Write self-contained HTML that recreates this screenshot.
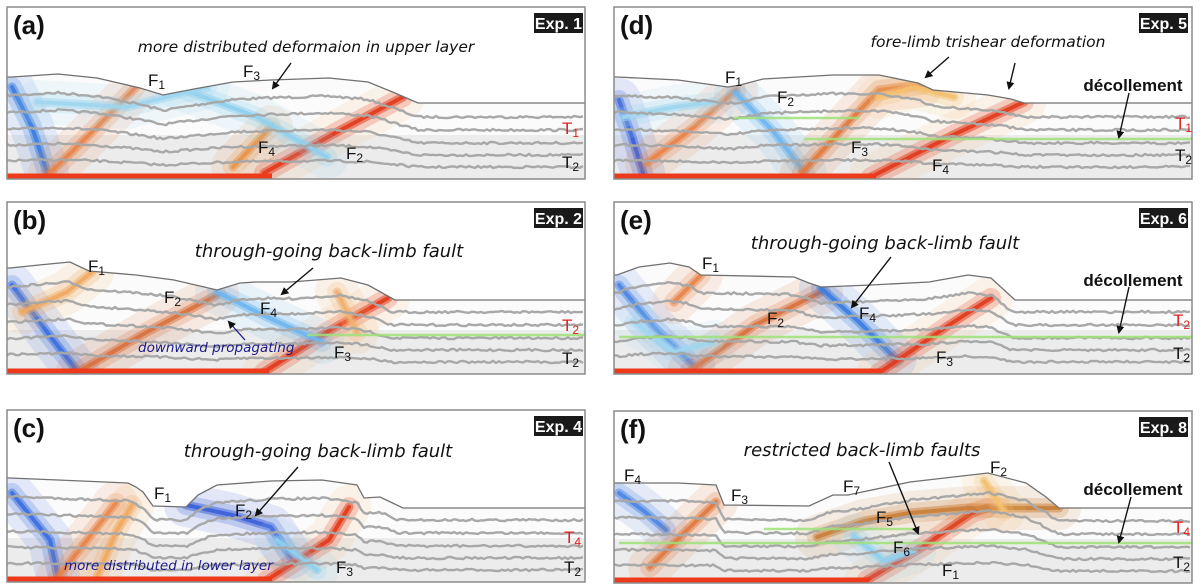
<!DOCTYPE html>
<html><head><meta charset="utf-8">
<style>
html,body{margin:0;padding:0;background:#fff;width:1200px;height:587px;overflow:hidden}
svg{display:block}
.lbl{font-family:"Liberation Sans",sans-serif;font-weight:bold;font-size:26px;fill:#111}
.exp{font-family:"Liberation Sans",sans-serif;font-weight:bold;font-size:16px;fill:#fff}
.ann{font-family:"DejaVu Sans",sans-serif;font-style:italic;font-size:15.5px;fill:#111}
.annb{font-family:"DejaVu Sans",sans-serif;font-style:italic;font-size:13.5px;fill:#1a1a8c}
.fl{font-family:"Liberation Sans Narrow","Liberation Sans",sans-serif;font-size:17px;fill:#111}
.dec{font-family:"Liberation Sans Narrow","Liberation Sans",sans-serif;font-weight:bold;font-size:17px;fill:#111}
</style></head>
<body>
<svg id="fig" width="1200" height="587" viewBox="0 0 1200 587" xmlns="http://www.w3.org/2000/svg"></svg>
<script>
const panelIds = ['a','b','c','d','e','f'];
const panelX = [7,7,7,614,614,614];
const panelY = [7,202,410,7,202,411];
const expNames = ['Exp. 1','Exp. 2','Exp. 4','Exp. 5','Exp. 6','Exp. 8'];
const topoA = [[0,70],[5,70],[51,67],[90,71],[133,81],[156,88],[187,82],[226,75],[264,73],[322,71],[361,75],[388,86],[411,96],[578,96]];
const topoB = [[0,66],[3,66],[32,63],[63,60],[82,69],[129,73],[167,78],[210,88],[233,81],[249,80],[284,80],[334,76],[361,83],[388,98],[578,98]];
const topoC = [[0,68],[3,68],[51,70],[121,73],[129,77],[136,82],[146,96],[179,97],[191,85],[210,75],[264,71],[315,70],[350,75],[357,88],[373,87],[396,98],[578,98]];
const topoD = [[0,70],[3,70],[64,73],[114,80],[126,78],[149,72],[219,68],[265,68],[304,76],[319,83],[374,88],[397,92],[410,96],[578,96]];
const topoE = [[0,73],[3,73],[25,65],[56,61],[75,65],[87,73],[180,75],[195,81],[207,85],[257,83],[315,80],[354,73],[377,76],[401,98],[578,98]];
const topoF = [[0,72],[3,72],[64,72],[102,74],[110,94],[195,95],[219,84],[234,84],[296,71],[374,62],[412,72],[432,86],[445,97],[578,97]];
const topos = [topoA,topoB,topoC,topoD,topoE,topoF];
const faultsA = [[[[5,80],[25,120],[40,165]],'#3b7de0'],[[[43,166],[90,120],[129,80]],'#e8844a'],[[[257,166],[330,125],[396,90]],'#e23a1c'],[[[226,160],[264,120]],'#e8944a'],[[[170,80],[250,110],[320,150]],'#8fd0ee'],[[[30,95],[120,100],[200,80]],'#9fd6ef']];
const faultsB = [[[[5,83],[40,130],[71,170]],'#3b6fe0'],[[[71,170],[140,130],[210,93]],'#d9713f'],[[[257,170],[320,130],[381,96]],'#e23a1c'],[[[210,90],[260,115],[315,140]],'#6fb6ee'],[[[15,110],[60,90],[85,70]],'#f0a860'],[[[330,90],[350,130]],'#f0b070']];
const faultsC = [[[[5,83],[43,130],[51,167]],'#3b6fe0'],[[[51,167],[80,130],[109,93]],'#e8844a'],[[[179,95],[225,105],[264,117],[284,147]],'#3b5fd8'],[[[260,170],[322,130],[342,97]],'#e23a1c'],[[[90,167],[110,120],[125,95]],'#f0a860'],[[[270,130],[310,160]],'#8fd0ee']];
const faultsD = [[[[5,93],[18,130],[29,166]],'#3b5fd8'],[[[33,156],[80,120],[122,83]],'#e8844a'],[[[122,86],[160,125],[191,166]],'#6fb6ee'],[[[188,166],[230,120],[265,83],[308,78]],'#e07a40'],[[[257,170],[339,128],[410,95]],'#e23a1c'],[[[10,110],[60,100],[100,95]],'#9fd6ef'],[[[265,90],[300,80],[340,90]],'#f4c070']];
const faultsE = [[[[5,83],[40,125],[79,163]],'#4d86e3'],[[[75,170],[141,123],[207,90]],'#d9713f'],[[[207,86],[245,120],[281,156]],'#3b7de0'],[[[265,171],[335,123],[377,96]],'#e23a1c'],[[[60,100],[87,73]],'#e8844a'],[[[20,120],[60,150],[100,140]],'#9fd6ef']];
const faultsF = [[[[5,82],[30,100],[52,119]],'#4d86e3'],[[[36,156],[70,122],[102,91]],'#e07a40'],[[[253,169],[310,135],[358,102],[374,97]],'#e23a1c'],[[[203,126],[250,110],[296,102],[354,97],[445,97]],'#c9803a'],[[[240,125],[270,150],[300,140]],'#8fd0ee'],[[[370,70],[390,100]],'#f4c070']];
const faultSets = [faultsA,faultsB,faultsC,faultsD,faultsE,faultsF];
const baseEnd = [265,262,265,262,268,255];
const greenLines = [null,[[300,578,133]],null,[[190,578,132],[120,245,111]],[[5,578,135]],[[5,578,132],[150,300,118]]];
const labelsA = [['more distributed deformaion in upper layer',299,45,'ann','middle']];
const labelsB = [['through-going back-limb fault',322,55,'ann2','middle'],['downward propagating',131,150,'annb','start']];
const labelsC = [['through-going back-limb fault',311,47,'ann2','middle'],['more distributed in lower layer',57,160,'annb','start']];
const labelsD = [['fore-limb trishear deformation',374,40,'ann','middle']];
const labelsE = [['through-going back-limb fault',271,47,'ann2','middle']];
const labelsF = [['restricted back-limb faults',248,45,'ann2','middle']];
const labelSets = [labelsA,labelsB,labelsC,labelsD,labelsE,labelsF];
const fA = [['1',141,79],['3',236,70],['4',251,146],['2',339,152]];
const fB = [['1',81,70],['2',157,101],['4',253,112],['3',327,156]];
const fC = [['1',147,89],['2',228,106],['3',329,163]];
const fD = [['1',111,76],['2',163,96],['3',237,146],['4',318,164]];
const fE = [['1',88,67],['2',153,122],['4',245,117],['3',322,161]];
const fF = [['4',10,70],['3',117,90],['7',229,81],['2',376,62],['5',262,112],['6',279,142],['1',328,165]];
const fSets = [fA,fB,fC,fD,fE,fF];
const tSets = [[['1',1,555,127],['2',0,555,161]],[['2',1,555,129],['2',0,555,162]],[['4',1,557,133],['2',0,557,163]],[['1',1,561,122],['2',0,561,154]],[['2',1,559,124],['2',0,559,157]],[['4',1,559,122],['2',0,559,157]]];
const arrowSets = [[[284,56,266,81]],[[306,66,275,92]],[[291,57,249,105]],[[335,50,312,70],[401,56,395,81],[515,86,505,130]],[[277,55,238,105],[515,85,505,130]],[[275,51,304,122],[517,86,505,131]]];
const decollement = [0,0,0,1,1,1];
const layerBases = [110,123,136,148,160];

const NS='http://www.w3.org/2000/svg';
const svg=document.getElementById('fig');
function mk(tag,attrs,parent){const e=document.createElementNS(NS,tag);for(const k in attrs)e.setAttribute(k,attrs[k]);(parent||svg).appendChild(e);return e;}
function topoAt(t,x){for(let i=0;i<t.length-1;i++){if(x>=t[i][0]&&x<=t[i+1][0]){const f=(x-t[i][0])/((t[i+1][0]-t[i][0])||1);return t[i][1]+f*(t[i+1][1]-t[i][1]);}}return t[t.length-1][1];}
let seed=7;function rnd(){seed=(seed*16807)%2147483647;return seed/2147483647;}
const W=578,H=172;
const defs=mk('defs',{});
const arrowM=mk('marker',{id:'ah',markerWidth:'8',markerHeight:'8',refX:'6',refY:'4',orient:'auto',markerUnits:'userSpaceOnUse'},defs);
mk('path',{d:'M0,0 L8,4 L0,8 z',fill:'#111'},arrowM);

panelIds.forEach((id,p)=>{
  const g=mk('g',{transform:`translate(${panelX[p]},${panelY[p]})`});
  
  
  const cp=mk('clipPath',{id:'cp'+p},defs);mk('rect',{x:0,y:0,width:W,height:H},cp);
  const inner=mk('g',{'clip-path':`url(#cp${p})`},g);
  mk('rect',{x:0,y:0,width:W,height:H,fill:'#fff'},inner);
  const t=topos[p];
  let poly=t.map(q=>q.join(',')).join(' ')+` ${W},${H} 0,${H}`;
  const body=mk('polygon',{points:poly,fill:'#fbfbfb'},inner);
  
  
  const bcp=mk('clipPath',{id:'bc'+p},defs);mk('polygon',{points:poly},bcp);
  const bg=mk('g',{'clip-path':`url(#bc${p})`},inner);
  mk('rect',{x:0,y:128,width:W,height:H-128,fill:'#ececec'},bg);
  faultSets[p].forEach((f,i)=>{
    const pts=f[0].map(q=>q.join(',')).join(' ');
    mk('polyline',{points:pts,fill:'none',stroke:f[1]==='#e23a1c'?'#f4b070':f[1],'stroke-width':44,'stroke-opacity':0.13,'stroke-linecap':'round','stroke-linejoin':'round'},bg);
    const wide=mk('polyline',{points:pts,fill:'none',stroke:f[1],'stroke-width':20,'stroke-opacity':0.22,'stroke-linecap':'round','stroke-linejoin':'round'},bg);
    
    
    mk('polyline',{points:pts,fill:'none',stroke:f[1],'stroke-width':9,'stroke-opacity':0.5,'stroke-linecap':'round','stroke-linejoin':'round'},bg);
    const core=mk('polyline',{points:pts,fill:'none',stroke:f[1],'stroke-width':4,'stroke-opacity':0.9,'stroke-linecap':'round','stroke-linejoin':'round'},bg);
    
    
  });
  layerBases.forEach((b,li)=>{
    let d='';let pen=false;
    for(let x=0;x<=W;x+=3){
      const tp=topoAt(t,x);const up=Math.max(0,96-tp)*(1-(b-96)/85);
      const y=b-up+(rnd()-0.5)*2.2;
      if(y>tp+2){d+=(pen?'L':'M')+x+','+y.toFixed(1);pen=true;}else pen=false;
    }
    const ln=mk('path',{d:d,fill:'none',stroke:'#a8a8a8','stroke-width':2.4},bg);
    
    
  });
  (greenLines[p]||[]).forEach(gl=>{
    const ln=mk('line',{x1:gl[0],y1:gl[2],x2:gl[1],y2:gl[2],stroke:'#9fe07a','stroke-width':2.5,'stroke-opacity':0.85},bg);
    
    
  });
  const br=mk('line',{x1:0,y1:169,x2:baseEnd[p],y2:169,stroke:'#ee3a1a','stroke-width':5},bg);
  
  
  const to=mk('polyline',{points:t.map(q=>q.join(',')).join(' '),fill:'none',stroke:'#707070','stroke-width':1.3},inner);
  
  
  const fr=mk('rect',{x:0,y:0,width:W,height:H,fill:'none',stroke:'#8a8a8a','stroke-width':1.5},g);
  
  
  const pl=mk('text',{x:6,y:27,class:'lbl'},g);pl.textContent='('+id+')';
  
  
  const ex=p<3?527:525;
  const eb=mk('rect',{x:ex,y:6,width:49,height:20,fill:'#1a1a1a'},g);
  
  
  const et=mk('text',{x:ex+24.5,y:22,class:'exp','text-anchor':'middle'},g);et.textContent=expNames[p];
  
  
  labelSets[p].forEach(l=>{
    const cls=l[3]==='ann2'?'ann':l[3];
    const tx=mk('text',{x:l[1],y:l[2],class:cls,'text-anchor':l[4]},g);
    if(l[3]==='ann2')tx.setAttribute('style','font-size:18px');
    tx.textContent=l[0];
    
    
  });
  if(decollement[p]){
    const dt=mk('text',{x:519,y:84,class:'dec','text-anchor':'middle'},g);dt.textContent='décollement';
    
    
  }
  arrowSets[p].forEach(a=>{
    const ar=mk('line',{x1:a[0],y1:a[1],x2:a[2],y2:a[3],stroke:'#111','stroke-width':1.4,'marker-end':'url(#ah)'},g);
    
    
  });
  if(p===1){const ar=mk('line',{x1:238,y1:138,x2:222,y2:120,stroke:'#1a1a8c','stroke-width':1.3,'marker-end':'url(#ah)'},g);
    
    }
  fSets[p].forEach(f=>{
    const tx=mk('text',{x:f[1],y:f[2],class:'fl'},g);
    
    
    tx.appendChild(document.createTextNode('F'));
    const s=mk('tspan',{'font-size':'12','dy':'3'},tx);s.textContent=f[0];
  });
  tSets[p].forEach(tt=>{
    const tx=mk('text',{x:tt[2],y:tt[3],class:'fl'},g);
    if(tt[1])tx.setAttribute('style','fill:#e02020');
    
    
    tx.appendChild(document.createTextNode('T'));
    const s=mk('tspan',{'font-size':'12','dy':'3'},tx);s.textContent=tt[0];
  });
});
</script>
</body></html>
